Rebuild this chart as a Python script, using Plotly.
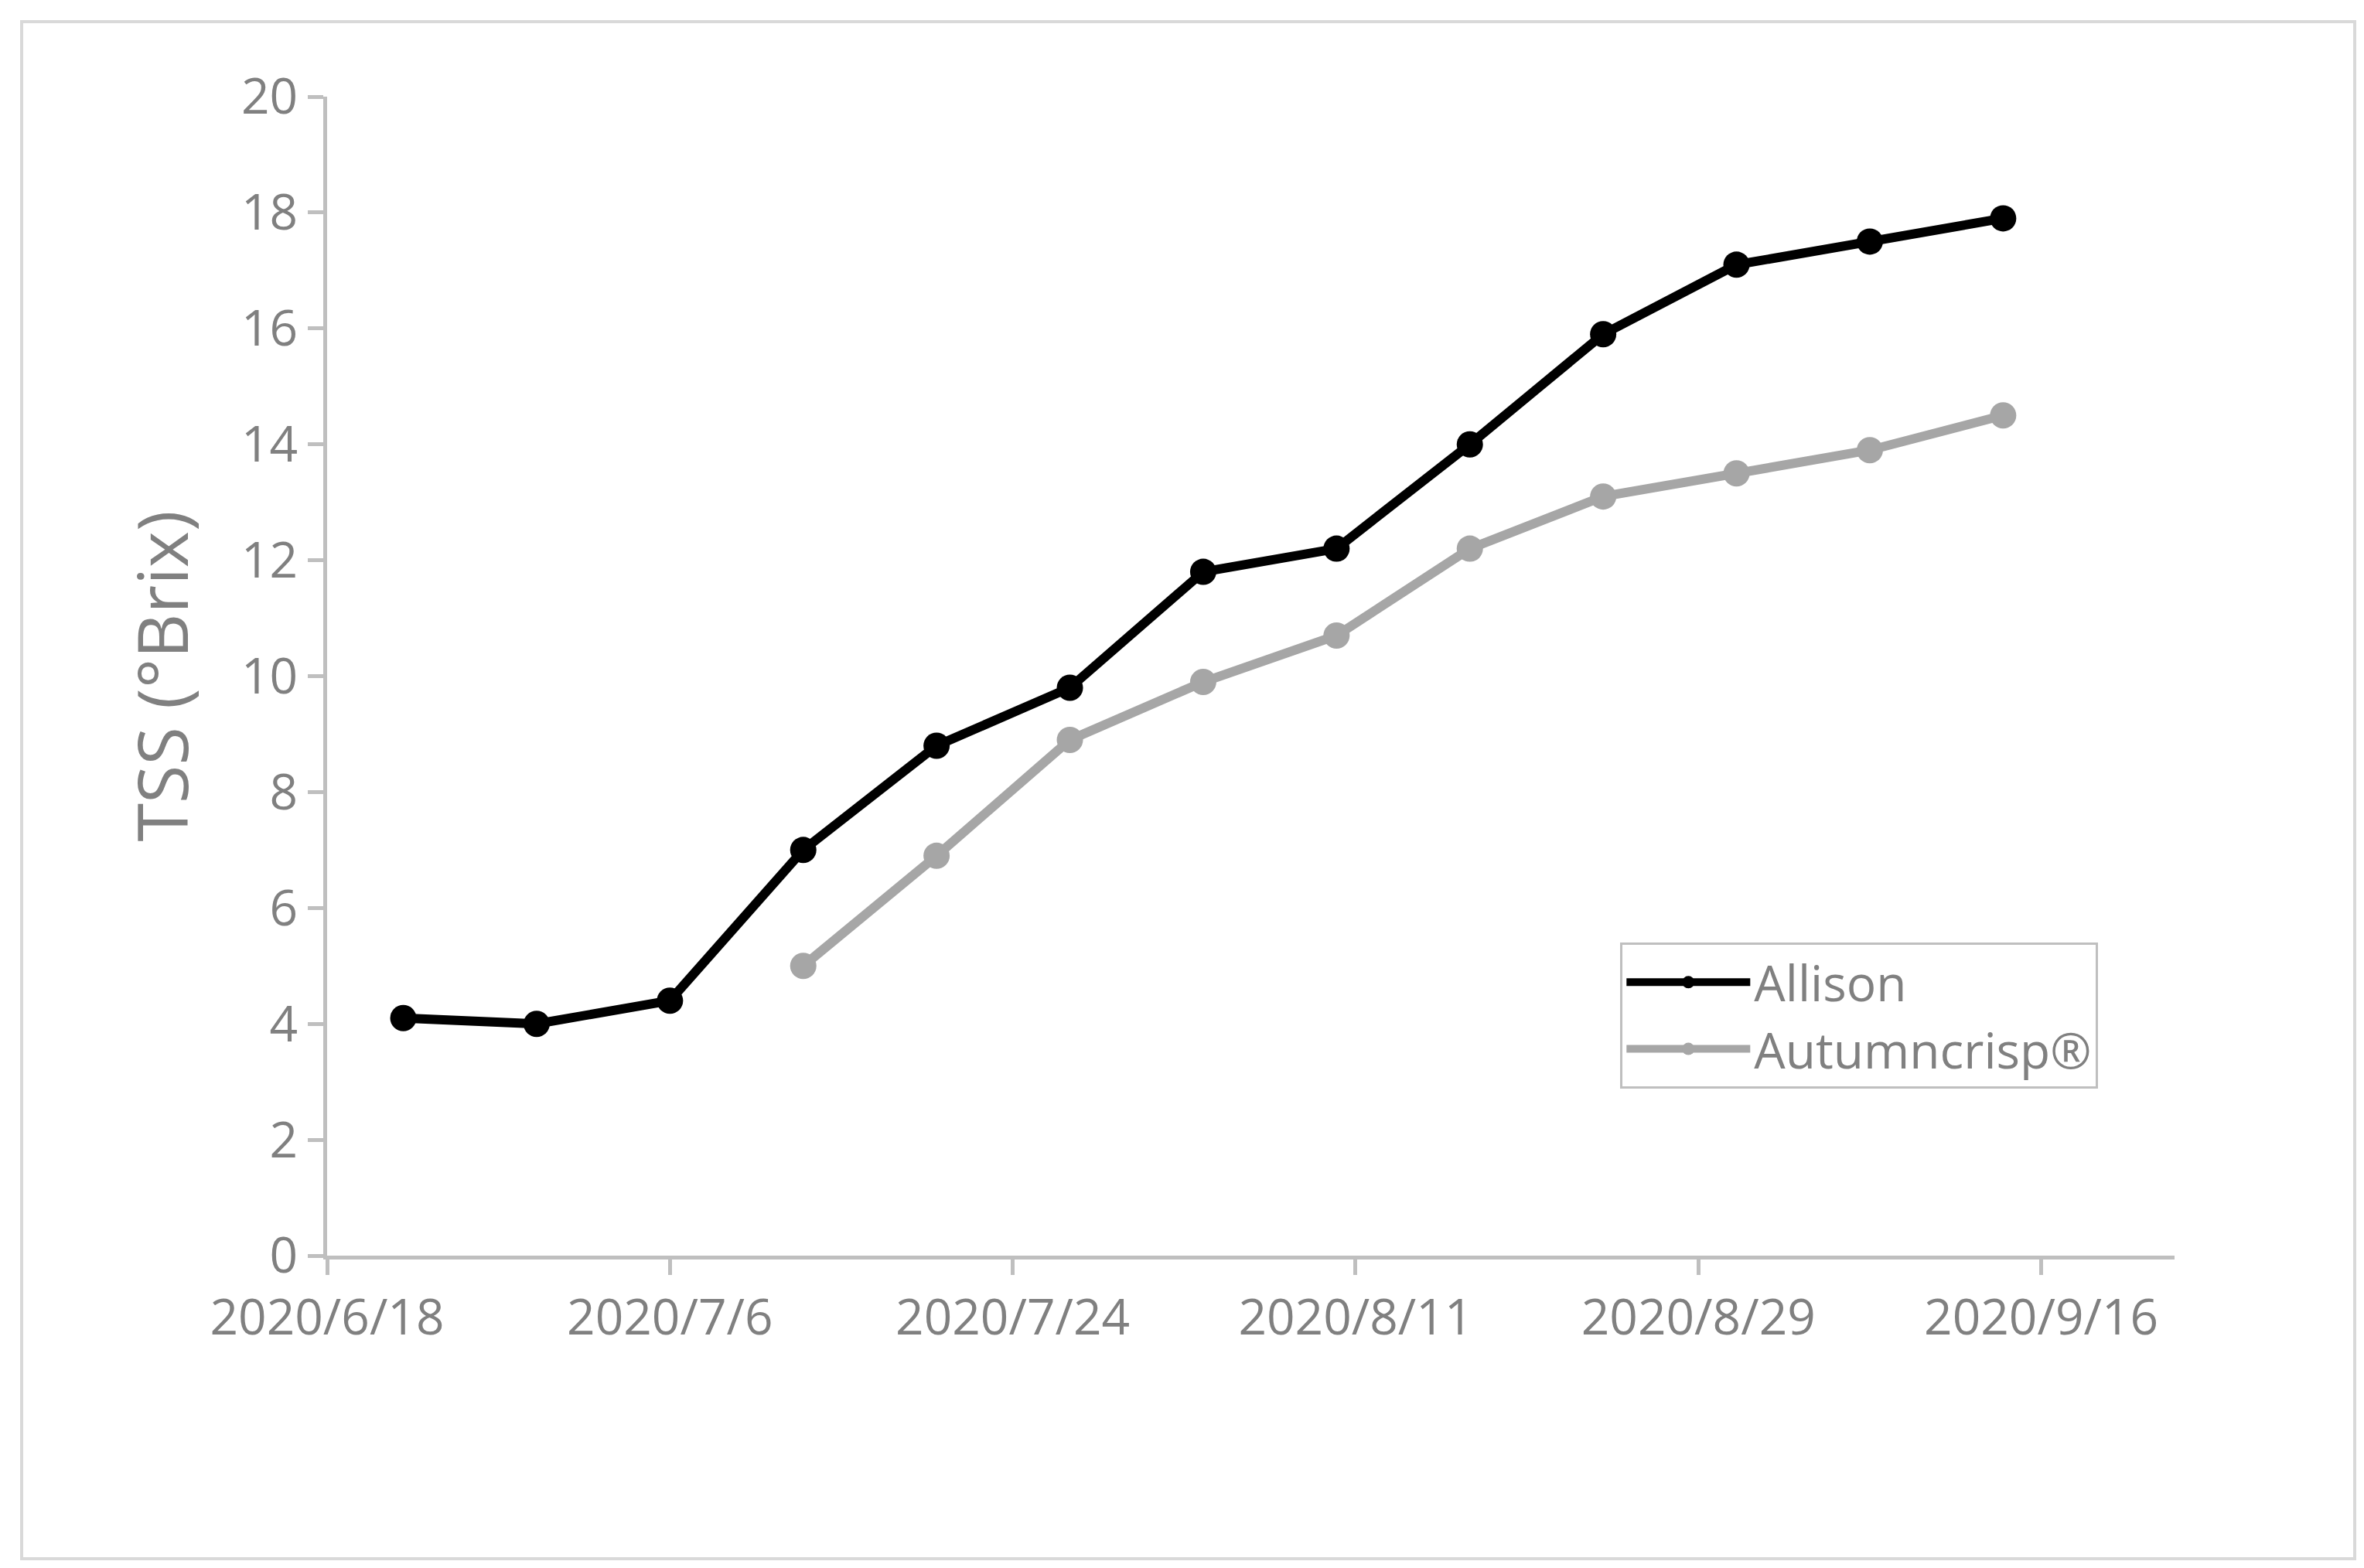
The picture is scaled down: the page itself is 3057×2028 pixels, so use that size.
import plotly.graph_objects as go

allison_dates = ["2020-06-22","2020-06-29","2020-07-06","2020-07-13","2020-07-20","2020-07-27","2020-08-03","2020-08-10","2020-08-17","2020-08-24","2020-08-31","2020-09-07","2020-09-14"]
allison_tss = [4.1, 4.0, 4.4, 7.0, 8.8, 9.8, 11.8, 12.2, 14.0, 15.9, 17.1, 17.5, 17.9]
autumn_dates = ["2020-07-13","2020-07-20","2020-07-27","2020-08-03","2020-08-10","2020-08-17","2020-08-24","2020-08-31","2020-09-07","2020-09-14"]
autumn_tss = [5.0, 6.9, 8.9, 9.9, 10.7, 12.2, 13.1, 13.5, 13.9, 14.5]
tick_vals = ["2020-06-18","2020-07-06","2020-07-24","2020-08-11","2020-08-29","2020-09-16"]
tick_text = ["2020/6/18","2020/7/6","2020/7/24","2020/8/11","2020/8/29","2020/9/16"]

fig = go.Figure()
fig.add_trace(go.Scatter(x=allison_dates, y=allison_tss, name="Allison", mode="lines+markers",
                         line=dict(color="black", width=12), marker=dict(color="black", size=34)))
fig.add_trace(go.Scatter(x=autumn_dates, y=autumn_tss, name="Autumncrisp®", mode="lines+markers",
                         line=dict(color="#a6a6a6", width=12), marker=dict(color="#a6a6a6", size=34)))
grey = "#808080"
fig.update_layout(
    width=3057, height=2028, paper_bgcolor="white", plot_bgcolor="white",
    margin=dict(l=415, r=253, t=117, b=412),
    font=dict(family="Open Sans", color=grey, size=64),
    xaxis=dict(type="date", range=["2020-06-18","2020-09-23"], tickvals=tick_vals, ticktext=tick_text,
               showgrid=False, showline=True, linecolor="#bfbfbf", linewidth=5,
               ticks="outside", ticklen=20, tickwidth=5, tickcolor="#bfbfbf", tickfont=dict(size=64, color=grey)),
    yaxis=dict(range=[0, 20], dtick=2, showgrid=False, showline=True, linecolor="#bfbfbf", linewidth=5,
               ticks="outside", ticklen=20, tickwidth=5, tickcolor="#bfbfbf", tickfont=dict(size=64, color=grey),
               title=dict(text="TSS (°Brix)", font=dict(size=90, color=grey), standoff=40), zeroline=False),
    legend=dict(x=0.70, y=0.27, xanchor="left", yanchor="top", bordercolor="#bfbfbf", borderwidth=3,
                font=dict(size=64, color=grey), itemwidth=160, bgcolor="white"),
    shapes=[dict(type="rect", xref="paper", yref="paper", x0=-(415-20)/2389, x1=1+(253-20)/2389,
                 y0=-(412-20)/1499, y1=1+(117-20)/1499, line=dict(color="#d9d9d9", width=4))],
)
fig.write_html("out.html")
